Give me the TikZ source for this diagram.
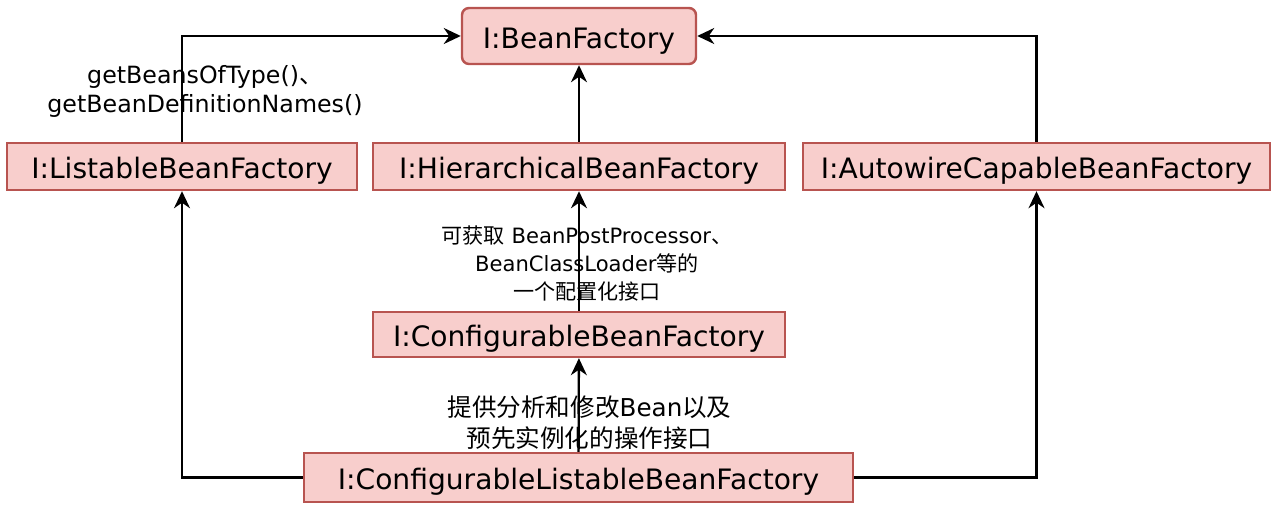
\documentclass[tikz,border=0pt]{standalone}
\usepackage{fontspec}
\setmainfont{DejaVu Sans}
\newfontfamily\cjk{Noto Sans CJK SC}
\usepackage{xcolor}
\definecolor{boxFill}{HTML}{F8CECC}
\definecolor{boxLine}{HTML}{B85450}
\usepackage{tikz}
\usetikzlibrary{positioning,arrows.meta}

\begin{document}
\begin{tikzpicture}[
    every node/.style={font=\fontsize{16}{18}\selectfont},
    iface/.style={draw=boxLine, fill=boxFill, line width=1.4pt,
                  minimum height=9.4mm, inner sep=2pt,
                  text height=14pt, text depth=0pt},
    root/.style={iface, rounded corners=4pt, minimum height=11.2mm},
    note/.style={align=center, font=\fontsize{13.5}{16.5}\selectfont},
    arr/.style={-{Stealth[length=3.4mm,width=3.2mm,inset=1.1mm]}, line width=1.3pt}]
  \useasboundingbox (0,0) rectangle (25.52,-10.26);
  \node[root]  (bf)  at (11.58,-0.72) [minimum width=4.68cm] {I:BeanFactory};
  \node[iface] (lbf) at (3.64,-3.33)  [minimum width=7.0cm]  {I:ListableBeanFactory};
  \node[iface] (hbf) at (11.58,-3.33) [minimum width=8.24cm] {I:HierarchicalBeanFactory};
  \node[iface] (abf) at (20.73,-3.33) [minimum width=9.34cm] {I:AutowireCapableBeanFactory};
  \node[iface] (cbf) at (11.58,-6.69) [minimum width=8.24cm, minimum height=9mm] {I:ConfigurableBeanFactory};
  \node[iface] (clbf) at (11.57,-9.55) [minimum width=10.98cm, minimum height=9.8mm] {I:ConfigurableListableBeanFactory};
  % edge labels
  \node[note] (n1) at (4.1,-1.82) {getBeansOfType(){\cjk 、}\\getBeanDefinitionNames()};
  \node[note, font=\fontsize{12}{16.2}\selectfont] (n2) at (11.74,-5.27)
    {{\cjk 可获取} BeanPostProcessor{\cjk 、}\\BeanClassLoader{\cjk 等的}\\{\cjk 一个配置化接口}};
  \node[note, font=\fontsize{14}{17.6}\selectfont] (n3) at (11.79,-8.45)
    {{\cjk 提供分析和修改}Bean{\cjk 以及}\\{\cjk 预先实例化的操作接口}};
  \draw[arr] (lbf.north) |- (bf.west);
  \draw[arr] (hbf) -- (bf);
  \draw[arr] (abf.north) |- (bf.east);
  \draw[arr] (cbf) -- (hbf);
  \draw[arr] (clbf) -- (cbf);
  \draw[arr] (clbf.west) -| (lbf.south);
  \draw[arr] (clbf.east) -| (abf.south);
\end{tikzpicture}
\end{document}
